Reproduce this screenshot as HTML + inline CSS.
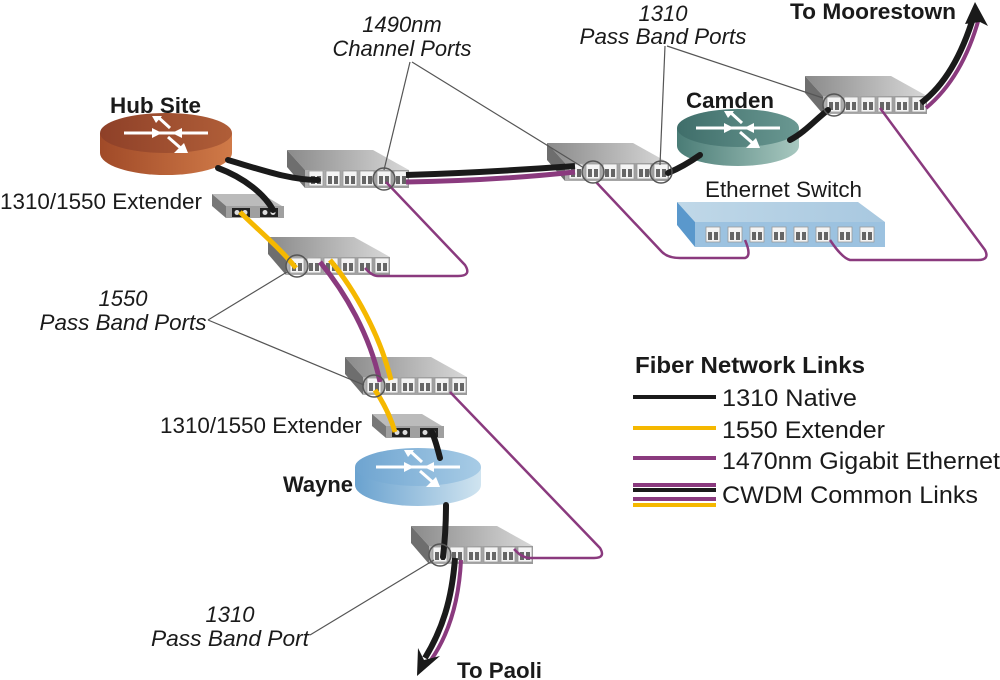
<!DOCTYPE html>
<html><head><meta charset="utf-8"><style>
html,body{margin:0;padding:0;background:#fff;}
svg{display:block;font-family:"Liberation Sans",sans-serif;}
</style></head><body>
<svg width="1000" height="680" viewBox="0 0 1000 680" xmlns="http://www.w3.org/2000/svg">
<defs>
<linearGradient id="gt" x1="0" x2="1" y1="0" y2="0"><stop offset="0" stop-color="#8a8a8a"/><stop offset="1" stop-color="#d8d8d8"/></linearGradient>
<linearGradient id="gf" x1="0" x2="1"><stop offset="0" stop-color="#b0b0b0"/><stop offset="1" stop-color="#9a9a9a"/></linearGradient>
<linearGradient id="hub" x1="0" x2="1"><stop offset="0" stop-color="#8e4028"/><stop offset="1" stop-color="#b05e38"/></linearGradient>
<linearGradient id="hubs" x1="0" x2="1"><stop offset="0" stop-color="#a04a28"/><stop offset="1" stop-color="#d07a48"/></linearGradient>
<linearGradient id="cam" x1="0" x2="1"><stop offset="0" stop-color="#3f6e6a"/><stop offset="1" stop-color="#6a9892"/></linearGradient>
<linearGradient id="cams" x1="0" x2="1"><stop offset="0" stop-color="#4a7c76"/><stop offset="1" stop-color="#a8c8c0"/></linearGradient>
<linearGradient id="way" x1="0" x2="1"><stop offset="0" stop-color="#6ea4d0"/><stop offset="1" stop-color="#a8cce6"/></linearGradient>
<linearGradient id="ways" x1="0" x2="1"><stop offset="0" stop-color="#6aa2cf"/><stop offset="1" stop-color="#d0e4f0"/></linearGradient>
<linearGradient id="eth" x1="0" x2="1"><stop offset="0" stop-color="#c0d8e8"/><stop offset="1" stop-color="#a8c8e0"/></linearGradient>
<g id="port"><rect x="-7" y="-8" width="14" height="15" fill="#f4f4f4" stroke="#999" stroke-width="0.8"/><rect x="-5" y="-3" width="4" height="8" fill="#666"/><rect x="1" y="-3" width="4" height="8" fill="#666"/></g>
<g id="box">
<polygon points="0,0 86,0 122,20 18,20" fill="url(#gt)"/>
<polygon points="0,0 18,20 18,38 0,17" fill="#6e6e6e"/>
<rect x="18" y="20" width="104" height="18" fill="url(#gf)"/>
<use href="#port" x="29" y="29"/><use href="#port" x="46" y="29"/><use href="#port" x="63" y="29"/>
<use href="#port" x="80" y="29"/><use href="#port" x="97" y="29"/><use href="#port" x="114" y="29"/>
</g>
<g id="ext">
<polygon points="0,0 50,0 70,12 14,12" fill="#bbb"/>
<polygon points="0,0 14,12 14,24 0,12" fill="#777"/>
<rect x="14" y="12" width="58" height="12" fill="#a0a0a0"/>
<rect x="20" y="14" width="18" height="9" fill="#222"/><circle cx="25" cy="18.5" r="2.5" fill="#ddd"/><circle cx="33" cy="18.5" r="2.5" fill="#ddd"/>
<rect x="48" y="14" width="18" height="9" fill="#222"/><circle cx="53" cy="18.5" r="2.5" fill="#ddd"/><circle cx="61" cy="18.5" r="2.5" fill="#ddd"/>
</g>
<g id="arr" fill="none" stroke="#fff" stroke-width="3">
<line x1="-42" y1="0" x2="42" y2="0"/>
<line x1="-8" y1="-16" x2="4" y2="-5"/><line x1="2" y1="4" x2="18" y2="18"/>
<polygon points="-14,-17 -4,-17 -10,-10" fill="#fff" stroke="none"/>
<polygon points="22,20 8,20 18,10" fill="#fff" stroke="none"/>
<polygon points="-4,0 -14,-5 -14,5" fill="#fff" stroke="none"/>
<polygon points="6,0 16,-5 16,5" fill="#fff" stroke="none"/>
</g>
</defs>

<path d="M100,133 L100,153 A66,22 0 0 0 232,153 L232,133 Z" fill="url(#hubs)"/>
<ellipse cx="166" cy="133" rx="66" ry="20" fill="url(#hub)"/>
<use href="#arr" x="166" y="133"/>
<path d="M677,128 L677,146 A61,20 0 0 0 799,146 L799,128 Z" fill="url(#cams)"/>
<ellipse cx="738" cy="128" rx="61" ry="19" fill="url(#cam)"/>
<use href="#arr" x="738" y="128"/>
<path d="M355,467 L355,485 A63,21 0 0 0 481,485 L481,467 Z" fill="url(#ways)"/>
<ellipse cx="418" cy="467" rx="63" ry="19" fill="url(#way)"/>
<use href="#arr" x="418" y="467"/>

<polygon points="677,202 858,202 885,222 695,222" fill="url(#eth)"/>
<polygon points="677,202 695,222 695,247 677,225" fill="#5a98cc"/>
<rect x="695" y="222" width="190" height="25" fill="#9cc2e0"/>
<g>
<use href="#port" x="713" y="235"/><use href="#port" x="735" y="235"/><use href="#port" x="757" y="235"/><use href="#port" x="779" y="235"/>
<use href="#port" x="801" y="235"/><use href="#port" x="823" y="235"/><use href="#port" x="845" y="235"/><use href="#port" x="867" y="235"/>
</g>

<use href="#box" x="287" y="150"/>
<use href="#box" x="268" y="237"/>
<use href="#box" x="547" y="143"/>
<use href="#box" x="805" y="76"/>
<use href="#box" x="345" y="357"/>
<use href="#box" x="411" y="526"/>
<use href="#ext" x="212" y="194"/>
<use href="#ext" x="372" y="414"/>

<g stroke="#555" stroke-width="1.2" fill="none">
<line x1="410" y1="62" x2="384" y2="170"/>
<line x1="412" y1="62" x2="584" y2="168"/>
<line x1="665" y1="46" x2="660" y2="165"/>
<line x1="667" y1="46" x2="823" y2="98"/>
<line x1="208" y1="320" x2="287" y2="272"/>
<line x1="208" y1="320" x2="364" y2="385"/>
<line x1="310" y1="635" x2="434" y2="560"/>
</g>

<g stroke="#8a3a7e" stroke-width="2.5" fill="none" stroke-linejoin="round">
<path d="M386,182 L465,265 Q472,276 458,276 L378,276 Q372,276 365,268"/>
<path d="M596,182 L662,252 Q668,258 680,258 L745,258 Q752,256 745,240"/>
<path d="M880,108 L985,250 Q990,260 978,260 L850,260 Q842,258 830,240"/>
<path d="M450,392 L600,548 Q606,558 594,558 L530,558 Q522,558 514,549"/>
</g>

<g stroke="#1a1a1a" stroke-width="6" fill="none" stroke-linecap="round">
<path d="M228,160 C262,170 290,180 318,180"/>
<path d="M218,168 C245,178 265,195 273,210"/>
<path d="M668,173 C680,168 690,162 700,155"/>
<path d="M790,140 C805,132 815,120 828,110"/>
<path d="M432,432 C436,442 438,450 440,458"/>
<path d="M446,505 C446,525 445,540 443,557"/>
</g>
<path d="M406,175 C470,173 520,170 575,166" stroke="#1a1a1a" stroke-width="6" fill="none"/>
<path d="M406,182 C470,181 520,178 575,172" stroke="#8a3a7e" stroke-width="5" fill="none"/>
<path d="M921,103 C945,85 962,55 974,15" stroke="#1a1a1a" stroke-width="6" fill="none"/>
<path d="M926,108 C950,88 968,58 979,18" stroke="#8a3a7e" stroke-width="4" fill="none"/>
<polygon points="975,2 988,26 980,22 965,24" fill="#1a1a1a"/>
<path d="M455,558 C452,600 442,630 425,658" stroke="#1a1a1a" stroke-width="6" fill="none"/>
<path d="M461,560 C459,602 449,634 431,660" stroke="#8a3a7e" stroke-width="4" fill="none"/>
<polygon points="417,676 418,648 424,660 440,656" fill="#1a1a1a"/>
<path d="M320,262 C345,292 370,335 380,382" stroke="#8a3a7e" stroke-width="5" fill="none"/>
<path d="M330,260 C355,290 380,335 391,380" stroke="#f5b800" stroke-width="5" fill="none"/>
<path d="M240,212 C258,230 280,248 296,268" stroke="#f5b800" stroke-width="5" fill="none"/>
<path d="M375,390 C383,402 390,415 395,432" stroke="#f5b800" stroke-width="5" fill="none"/>

<g stroke="#555" stroke-width="1.5" fill="none">
<circle cx="384" cy="179" r="11"/><circle cx="593" cy="172" r="11"/><circle cx="661" cy="172" r="11"/>
<circle cx="834" cy="105" r="11"/><circle cx="297" cy="266" r="11"/><circle cx="374" cy="386" r="11"/>
<circle cx="440" cy="555" r="11"/>
</g>

<g font-size="22" fill="#1a1a1a">
<text x="110" y="113" font-weight="bold" textLength="91" lengthAdjust="spacingAndGlyphs">Hub Site</text>
<text x="0" y="209" textLength="202" lengthAdjust="spacingAndGlyphs">1310/1550 Extender</text>
<text x="686" y="108" font-weight="bold" textLength="88" lengthAdjust="spacingAndGlyphs">Camden</text>
<text x="705" y="197" textLength="157" lengthAdjust="spacingAndGlyphs">Ethernet Switch</text>
<text x="283" y="492" font-weight="bold" textLength="70" lengthAdjust="spacingAndGlyphs">Wayne</text>
<text x="160" y="433" textLength="202" lengthAdjust="spacingAndGlyphs">1310/1550 Extender</text>
<text x="790" y="19" font-weight="bold" textLength="166" lengthAdjust="spacingAndGlyphs">To Moorestown</text>
<text x="457" y="678" font-weight="bold" textLength="85" lengthAdjust="spacingAndGlyphs">To Paoli</text>
</g>
<g font-size="22" font-style="italic" fill="#1a1a1a" text-anchor="middle">
<text x="402" y="32">1490nm</text><text x="402" y="56" textLength="139" lengthAdjust="spacingAndGlyphs">Channel Ports</text>
<text x="663" y="21">1310</text><text x="663" y="44" textLength="167" lengthAdjust="spacingAndGlyphs">Pass Band Ports</text>
<text x="123" y="306">1550</text><text x="123" y="330" textLength="167" lengthAdjust="spacingAndGlyphs">Pass Band Ports</text>
<text x="230" y="622">1310</text><text x="230" y="646" textLength="158" lengthAdjust="spacingAndGlyphs">Pass Band Port</text>
</g>

<text x="635" y="373" font-size="23" font-weight="bold" fill="#1a1a1a" textLength="230" lengthAdjust="spacingAndGlyphs">Fiber Network Links</text>
<g stroke-width="4">
<line x1="633" y1="397" x2="716" y2="397" stroke="#1a1a1a"/>
<line x1="633" y1="428" x2="716" y2="428" stroke="#f5b800"/>
<line x1="633" y1="458" x2="716" y2="458" stroke="#8a3a7e"/>
<line x1="633" y1="485" x2="716" y2="485" stroke="#8a3a7e"/>
<line x1="633" y1="490" x2="716" y2="490" stroke="#1a1a1a"/>
<line x1="633" y1="499" x2="716" y2="499" stroke="#8a3a7e"/>
<line x1="633" y1="505" x2="716" y2="505" stroke="#f5b800"/>
</g>
<g font-size="24" fill="#1a1a1a">
<text x="722" y="406" textLength="135" lengthAdjust="spacingAndGlyphs">1310 Native</text>
<text x="722" y="438" textLength="163" lengthAdjust="spacingAndGlyphs">1550 Extender</text>
<text x="722" y="469" textLength="278" lengthAdjust="spacingAndGlyphs">1470nm Gigabit Ethernet</text>
<text x="722" y="503" textLength="256" lengthAdjust="spacingAndGlyphs">CWDM Common Links</text>
</g>
</svg>
</body></html>
